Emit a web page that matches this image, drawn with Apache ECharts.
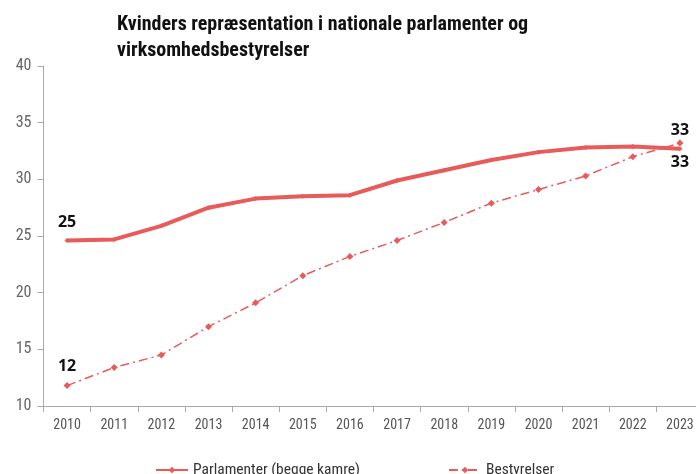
<!DOCTYPE html>
<html><head><meta charset="utf-8">
<script src="https://cdn.jsdelivr.net/npm/echarts@6/dist/echarts.min.js"></script>
<style>html,body{margin:0;padding:0;background:#fff}#c{width:696px;height:474px}</style>
</head><body><div id="c"></div>
<script>
const years = ['2010','2011','2012','2013','2014','2015','2016','2017','2018','2019','2020','2021','2022','2023'];
const parlamenter = [24.6,24.7,25.9,27.5,28.3,28.5,28.6,29.9,30.8,31.7,32.4,32.8,32.9,32.7];
const bestyrelser = [11.8,13.4,14.5,17.0,19.1,21.5,23.2,24.6,26.2,27.9,29.1,30.3,32.0,33.2];
const yTicks = [10,15,20,25,30,35,40];
const red = '#e85b5b';
const narrow = '"Liberation Sans Narrow", "Roboto Condensed", "Open Sans", sans-serif';
const chart = echarts.init(document.getElementById('c'));
function lbl(pos, txt, dist){
  return {show:true, position:pos, formatter:txt, fontFamily:'"Open Sans", sans-serif', fontWeight:'bold', fontSize:16, color:'#111', distance:dist};
}
chart.setOption({
  animation:false,
  title:{text:'Kvinders repræsentation i nationale parlamenter og\nvirksomhedsbestyrelser', left:112, top:7,
    textStyle:{fontFamily:narrow, fontWeight:'bold', fontSize:20, lineHeight:26, color:'#111'}},
  grid:{left:43.5, width:660, top:66, bottom:68, containLabel:false, outerBoundsMode:'none'},
  xAxis:{type:'category', data:years, boundaryGap:true,
    axisLine:{lineStyle:{color:'#aaa'}}, axisTick:{show:true, length:6, lineStyle:{color:'#aaa'}},
    axisLabel:{fontFamily:narrow, fontSize:14, color:'#555', margin:12}},
  yAxis:{type:'value', min:10, max:40, interval:5,
    axisLine:{show:true, lineStyle:{color:'#aaa'}}, axisTick:{show:true, length:6, lineStyle:{color:'#aaa'}},
    splitLine:{show:false},
    axisLabel:{fontFamily:narrow, fontSize:16, color:'#666', margin:12}},
  legend:{left:150, top:457, itemGap:88, itemWidth:32, itemHeight:8,
    textStyle:{fontFamily:narrow, fontSize:15.5, color:'#333'},
    data:[{name:'Parlamenter (begge kamre)'},{name:'Bestyrelser'}]},
  series:[
    {name:'Parlamenter (begge kamre)', type:'line', data:parlamenter.map((v,i)=>({value:v,
        label: i===0 ? lbl('top','25',8) : (i===13 ? lbl('bottom','33',3) : {show:false})})),
      lineStyle:{color:red, width:4}, itemStyle:{color:red}, symbol:'diamond', symbolSize:5, showSymbol:true},
    {name:'Bestyrelser', type:'line', data:bestyrelser.map((v,i)=>({value:v,
        label: i===0 ? lbl('top','12',8) : (i===13 ? lbl('top','33',1) : {show:false})})),
      lineStyle:{color:red, width:1.5, type:[9,4,2,4]}, itemStyle:{color:red}, symbol:'diamond', symbolSize:7, showSymbol:true}
  ]
});
</script></body></html>
